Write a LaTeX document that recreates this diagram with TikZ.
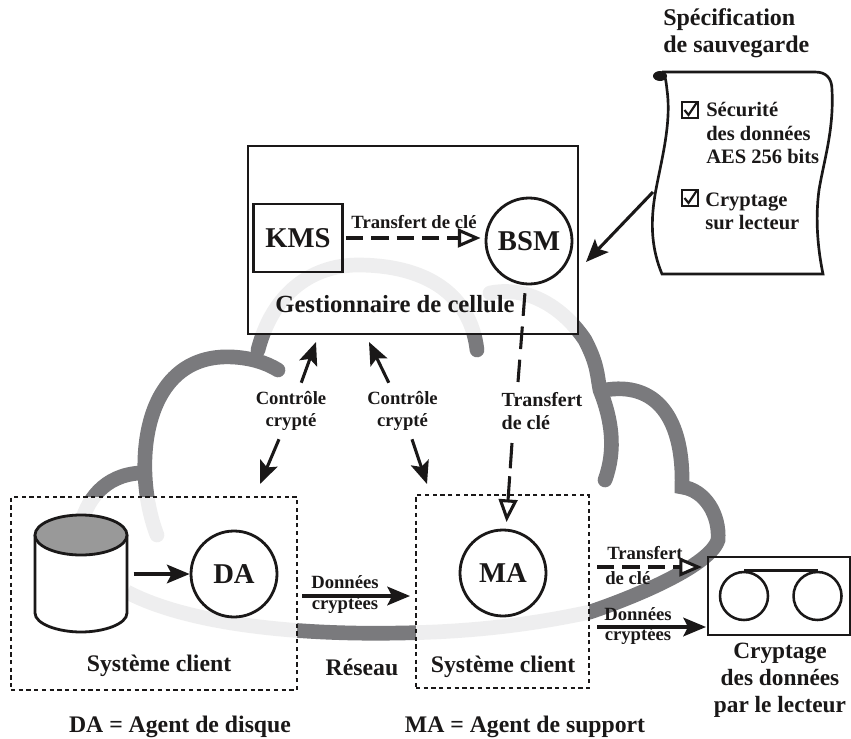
\documentclass[tikz,border=0pt]{standalone}
\usepackage{fontspec}
\setmainfont{Liberation Serif}
\usepackage{xcolor}
\usetikzlibrary{positioning,arrows.meta}
\definecolor{ink}{HTML}{1A1818}
\definecolor{cloudgray}{HTML}{7A7A7D}
\definecolor{diskgray}{HTML}{999999}
\newcommand{\fsize}[2]{\fontsize{#1}{#2}\selectfont\bfseries}
\tikzset{
	frame/.style={draw=ink,line width=2.1pt,inner sep=0pt},
	dotbox/.style={draw=ink,line width=1.9pt,dash pattern=on 3.2pt off 2.6pt},
	round/.style={circle,frame,minimum size=64.5pt,font=\fsize{21.5}{24}},
	reel/.style={circle,draw=ink,line width=1.9pt,minimum size=36pt,inner sep=0pt},
	tag/.style={text=ink,inner sep=0pt,align=center,font=\fsize{17.8}{20}},
	small/.style={text=ink,inner sep=0pt,align=center,font=\fsize{14}{16}},
	checkbox/.style={draw=ink,line width=1.5pt,minimum size=12pt,inner sep=0pt},
	solidarrow/.style={-{Stealth[length=17pt,width=14pt,inset=3.5pt]},draw=ink,line width=2.3pt},
	keyarrow/.style={-{Triangle[length=17pt,width=14pt,fill=white]},draw=ink,line width=2.3pt,dash pattern=on 13pt off 6pt},
	cloudline/.style={draw=cloudgray,line width=11pt}
}
\begin{document}
\begin{tikzpicture}[x=0.75pt,y=-0.75pt,>=Stealth]
	\useasboundingbox (0,0) rectangle (851,739);
	% cloud
	\draw[cloudline] (80,530) .. controls (85,500) and (105,475) .. (140,473);
	\draw[cloudline,line cap=round] (157,535) .. controls (132,470) and (140,352) .. (233,357) .. controls (250,358) and (265,362) .. (278,370);
	\draw[cloudline,line cap=round] (258,350) .. controls (275,285) and (320,265) .. (358,265) .. controls (420,265) and (470,290) .. (477,350);
	\draw[cloudline,line cap=round] (490,293) .. controls (530,285) and (565,310) .. (585,340) .. controls (598,365) and (597,375) .. (600,390) .. controls (612,420) and (616,450) .. (605,480);
	\draw[cloudline] (600,391) .. controls (650,380) and (684,410) .. (682,487) .. controls (705,490) and (720,515) .. (718,540) .. controls (710,565) and (640,595) .. (590,612) .. controls (530,625) and (470,632) .. (400,633) .. controls (300,635) and (190,625) .. (127,592);

	\fill[white,fill opacity=.88] (248,146) rectangle (578,334) (11,497) rectangle (297,690) (416,495) rectangle (589,688);

	% cell manager
	\node[frame,minimum width=247.5pt,minimum height=141pt] (cellmgr) at (413,240) {};
	\node[frame,minimum width=66.75pt,minimum height=51pt,font=\fsize{21.5}{24},text=ink] (kms) at (298,238) {KMS};
	\node[round,text=ink] (bsm) at (529,241) {BSM};
	\node[tag,font=\fsize{18.5}{20}] (cellname) at (395,304) {Gestionnaire de cellule};
	\node[small] (keytop) at (414,222) {Transfert de clé};

	% clients
	\node[dotbox,minimum width=214.5pt,minimum height=144.75pt] (clienta) at (154,593.5) {};
	\node[dotbox,minimum width=129.75pt,minimum height=144.75pt] (clientb) at (502.5,591.5) {};
	\draw[draw=ink,fill=white,line width=2.1pt] (35,535) -- (35,613) .. controls (35,624) and (58,632) .. (81,632) .. controls (104,632) and (127,624) .. (127,613) -- (127,535);
	\draw[draw=ink,fill=diskgray,line width=2.1pt] (81,535) ellipse (46 and 20);
	\coordinate (disk) at (127,574);
	\node[round,text=ink] (da) at (234,574) {DA};
	\node[round,text=ink] (ma) at (503,573) {MA};
	\node[tag] (clientaname) at (159,666) {Système client};
	\node[tag] (clientbname) at (503,667) {Système client};
	\node[tag] (network) at (362,667) {Réseau};
	\node[tag] (legendda) at (180,727) {DA = Agent de disque};
	\node[tag] (legendma) at (525,727) {MA = Agent de support};

	% tape
	\node[frame,minimum width=106.5pt,minimum height=58.5pt] (tape) at (779,596) {};
	\node[reel] (reela) at (744,596) {};
	\node[reel] (reelb) [right=17.25pt of reela] {};
	\node[tag,font=\fsize{17.5}{20.25}] (tapename) at (780,680) {Cryptage\\des données\\par le lecteur};
	\draw[draw=ink,line width=1.9pt] (reela.north) -- (reelb.north);

	% labels
	\node[small,minimum height=42pt] (ctrla) at (291,411) {Contrôle\\crypté};
	\node[small,minimum height=42pt] (ctrlb) at (402.5,411) {Contrôle\\crypté};
	\node[small,font=\fsize{15}{17.25},align=left] (keymid) at (542,411) {Transfert\\de clé};
	\node[small,font=\fsize{14}{15.75}] (dataa) at (345,594.5) {Données\\cryptées};
	\node[small,align=left,anchor=west,font=\fsize{14}{18.75}] (keyright) at (605,565.5) {\hspace{1.5pt}Transfert\\de clé};
	\node[small,font=\fsize{14}{15.25}] (datab) at (638,626) {Données\\cryptées};

	\coordinate (mgrleft) at (316,342);
	\coordinate (mgrright) at (369,342);
	\coordinate (clientatop) at (260,484);
	\coordinate (clientbtop) at (427,484);
	\coordinate (keyupend) at (518,382);
	\coordinate (keydownstart) at (512,443);
	\coordinate (dataastart) at (302,596);
	\coordinate (dataaend) at (410,596);
	\coordinate (keyrstart) at (597,567);
	\coordinate (keyrend) at (702,567);
	\coordinate (databstart) at (597,627);
	\coordinate (databend) at (706,627);
	\coordinate (specedge) at (653,192);
	\coordinate (specend) at (586,262);

	\draw[solidarrow] (ctrla) -- (mgrleft);
	\draw[solidarrow] (ctrla) -- (clientatop);
	\draw[solidarrow] (ctrlb) -- (mgrright);
	\draw[solidarrow] (ctrlb) -- (clientbtop);
	\draw[solidarrow,shorten <=5pt] (disk) -- (da);
	\draw[solidarrow] (dataastart) -- (dataaend);
	\draw[solidarrow] (databstart) -- (databend);
	\draw[solidarrow] (specedge) -- (specend);
	\draw[keyarrow,shorten <=1.5pt,shorten >=3pt] (kms.east) -- (kms.east -| bsm.west);
	\draw[draw=ink,line width=2.3pt,dash pattern=on 17pt off 8pt,shorten <=6pt] (bsm) -- (keyupend);
	\draw[keyarrow,dash pattern=on 19pt off 6pt,shorten >=5pt] (keydownstart) -- (ma);
	\draw[keyarrow] (keyrstart) -- (keyrend);

	% backup specification
	\node[tag,align=left,anchor=west,font=\fsize{18}{20.5}] (spectitle) at (663,33) {Spécification\\de sauvegarde};
	\draw[draw=ink,line width=2pt] (662,72) -- (815,72) .. controls (826,72) and (832,78) .. (832,90) .. controls (834,130) and (824,160) .. (819,190) .. controls (815,220) and (818,250) .. (823,274) -- (662,274) .. controls (652,250) and (650,225) .. (655,195) .. controls (660,165) and (672,125) .. (667,90) .. controls (666,80) and (665,75) .. (662,72);
	\fill[ink] (660,76) ellipse (7 and 5);
	\node[checkbox] (checka) at (689.5,110) {};
	\node[checkbox] (checkb) at (689.5,198) {};
	\foreach \c in {checka,checkb}
		\draw[draw=ink,line width=1.6pt] ([shift={(-5,0)}]\c.center) -- ([shift={(-1,5)}]\c.center) -- ([shift={(7,-7)}]\c.center);
	\node[small,align=left,anchor=west,font=\fsize{15.4}{17.5}] (speca) at (706,133) {Sécurité\\des données\\AES 256 bits};
	\node[small,align=left,anchor=west,font=\fsize{15.4}{17}] (specb) at (705,211) {Cryptage\\sur lecteur};
\end{tikzpicture}
\end{document}
